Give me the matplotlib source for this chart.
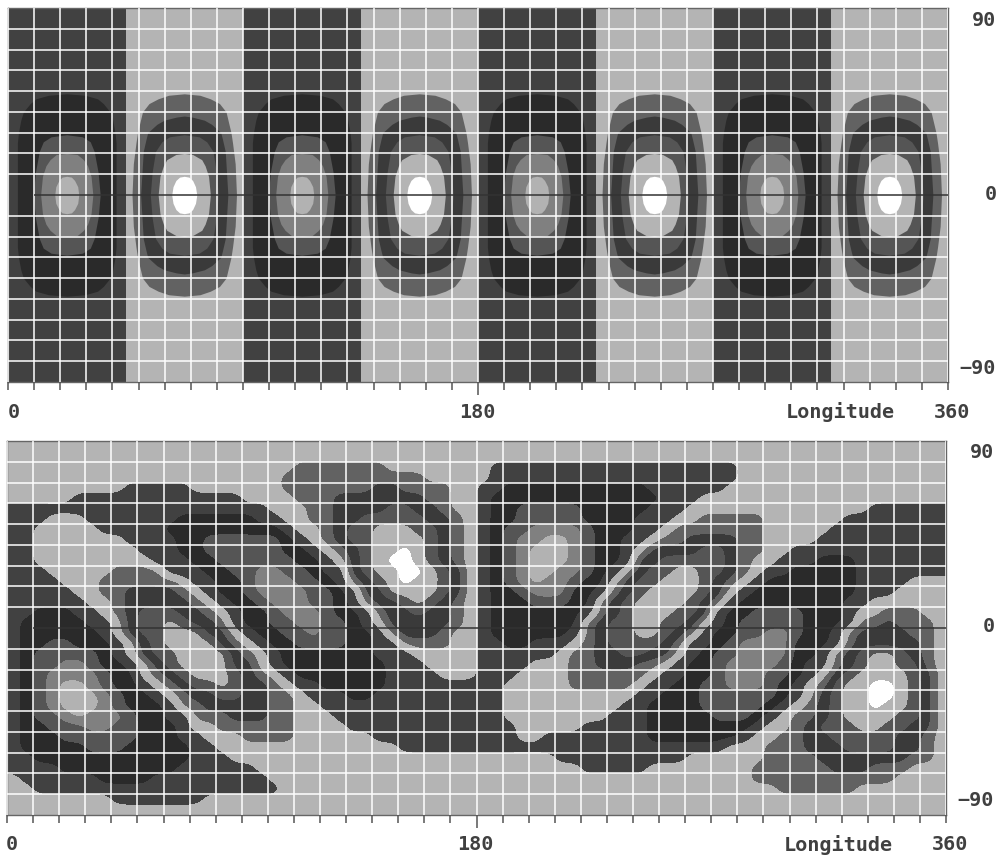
import numpy as np
import matplotlib
matplotlib.use("Agg")
import matplotlib.pyplot as plt
from matplotlib.colors import BoundaryNorm, ListedColormap

W, H = 997, 856

# band codes: a-e dark vortex bands, 1-6 light vortex bands
BAND_VALUES = {"a": -1, "b": -2, "c": -3, "d": -4, "e": -5,
               "1": 1, "2": 2, "3": 3, "4": 4, "5": 5, "6": 6}
LEVELS = [-5.5, -4.5, -3.5, -2.5, -1.5, 0, 1.5, 2.5, 3.5, 4.5, 5.5, 6.5]
GREYS = {"e": "#b2b2b2", "d": "#808080", "c": "#555555", "b": "#2a2a2a", "a": "#414141",
         "1": "#b4b4b4", "2": "#626262", "3": "#3a3a3a", "4": "#555555", "5": "#b4b4b4",
         "6": "#ffffff"}
BAND_ORDER = "edcba123456"

# top panel: longitudes of the vortex centres and of the dark strips
dark_centres = [22.5, 112.5, 202.5, 292.5]
light_centres = [67.5, 157.5, 247.5, 337.5]
dark_strip_width = 45

# top panel: half width in degrees longitude of each band, against latitude
dark_bands = {
    "b": ([0, 25, 30, 36, 40, 44, 46.3, 48, 48.7], [18.9, 18.9, 18.5, 17.6, 16.6, 14, 11.8, 7, 0]),
    "c": ([0, 11, 21, 25.6, 28, 29], [12.8, 12, 10.5, 9, 6, 0]),
    "d": ([0, 9, 14, 17, 19.5, 20], [10, 9.3, 8, 6.4, 4, 0]),
    "e": ([0, 4, 7, 8.6, 9], [4.6, 4.2, 3, 1.8, 0]),
}
light_bands = {
    "2": ([0, 15, 25, 30, 40, 44, 46.3, 48, 48.7], [20, 19.5, 18.5, 17.9, 16, 13.5, 10, 6, 0]),
    "3": ([0, 21, 27, 30, 34, 36, 37.5, 38], [16.7, 15.7, 14.6, 14, 10.5, 7.7, 3, 0]),
    "4": ([0, 11, 21, 25.6, 28, 29], [13, 12.3, 11, 8.6, 5.7, 0]),
    "5": ([0, 9, 14, 17, 19.5, 20], [10, 9.3, 8, 6.7, 3.2, 0]),
    "6": ([0, 4, 7, 8.6, 9], [4.8, 4.3, 3.2, 1.8, 0]),
}

# bottom panel: 5 deg cells, north to south, written as band*count
bottom_rows = [
    "1*72",
    "1*72",
    "1*22 2*7 1*8 a*19 1*16",
    "1*21 2*11 1*5 a*19 1*16",
    "1*9 a*5 1*7 2*7 3*2 2*4 1*2 a*2 b*11 a*6 1*17",
    "1*5 a*13 1*4 2*3 3*7 2*2 1*2 a*1 b*13 a*3 1*19",
    "a*20 1*3 2*2 3*4 4*2 3*2 2*1 1*2 a*1 b*2 c*5 b*5 a*3 1*14 a*6",
    "a*3 1*3 a*7 b*6 a*2 1*2 2*2 3*2 4*5 3*2 2*1 1*1 a*1 b*2 c*5 b*4 a*3 1*2 2*5 1*6 a*8",
    "a*2 1*5 a*5 b*9 a*1 1*2 2*1 3*1 4*2 5*3 4*2 3*1 2*1 1*1 a*1 b*1 c*2 d*4 c*1 b*3 a*2 1*1 2*7 1*5 a*9",
    "a*2 1*7 a*4 b*2 c*6 b*1 a*1 1*1 2*1 3*1 4*2 5*4 4*1 3*1 2*1 1*1 a*1 b*1 c*1 d*2 e*2 d*1 c*1 b*2 a*2 1*1 2*2 3*4 2*2 1*4 a*10",
    "a*2 1*8 a*3 b*2 c*6 b*2 a*1 1*1 2*1 3*1 4*1 5*2 6*1 5*1 4*1 3*1 2*1 1*1 a*1 b*1 c*1 d*1 e*3 d*1 c*1 b*2 a*1 1*1 3*4 4*2 3*1 2*2 1*2 a*12",
    "a*2 1*9 a*3 b*2 c*6 b*2 a*1 1*1 3*1 4*1 5*1 6*2 5*1 4*1 3*1 2*1 1*1 a*1 b*1 c*1 d*1 e*3 d*1 c*1 b*2 a*1 3*2 4*5 3*1 2*1 1*2 a*3 b*3 a*7",
    "a*3 1*5 2*4 a*3 b*2 c*2 d*2 c*2 b*1 a*2 3*1 4*1 5*2 6*2 5*1 4*1 3*1 1*1 a*1 b*1 c*1 d*1 e*2 d*2 c*1 b*1 a*1 1*1 3*1 4*2 5*2 4*2 3*1 2*1 1*1 a*2 b*5 a*7",
    "a*4 1*3 2*6 1*1 a*2 b*2 c*1 d*3 c*2 b*1 a*1 2*1 3*1 4*1 5*1 6*1 5*2 4*1 3*1 1*1 a*1 b*1 c*1 d*1 e*1 d*2 c*1 b*2 1*1 3*1 4*2 5*3 4*1 3*1 2*1 1*1 a*1 b*7 a*4 1*3",
    "a*5 1*2 2*2 3*4 2*1 1*1 a*1 b*2 c*1 d*4 c*2 b*1 a*1 3*2 5*4 4*1 3*1 1*1 a*1 b*2 c*1 d*3 b*2 a*1 2*1 3*1 4*1 5*4 4*1 3*1 1*1 a*1 b*8 a*3 1*4",
    "a*6 1*2 2*1 3*5 2*1 1*1 a*1 b*2 c*1 d*3 c*2 b*1 a*1 2*1 3*2 4*1 5*1 4*1 3*1 2*1 1*1 a*1 b*3 c*3 b*2 2*1 3*1 4*1 5*4 4*1 3*1 2*1 a*1 b*8 a*2 1*6",
    "a*2 b*3 a*2 1*1 2*1 3*1 4*3 3*2 2*1 1*1 a*1 b*2 c*1 d*3 c*1 b*2 a*1 2*1 3*2 4*1 3*2 2*1 1*1 a*1 b*7 a*1 2*1 3*1 4*1 5*3 4*2 3*1 a*1 b*2 c*4 b*3 a*1 1*2 2*3 1*2",
    "a*1 b*5 a*2 1*1 3*1 4*2 5*1 4*1 3*2 2*1 a*1 b*2 c*2 d*2 c*2 b*1 a*1 1*1 3*5 2*1 1*1 a*1 b*7 2*1 3*1 4*2 5*2 4*2 3*1 1*1 a*1 b*1 c*5 b*3 a*1 2*2 3*1 2*3 1*1",
    "a*1 b*6 a*1 1*1 3*1 4*2 5*3 3*2 1*1 a*1 b*2 c*2 d*1 c*2 b*2 a*1 2*1 3*3 2*1 1*2 a*1 b*6 a*1 2*1 3*1 4*2 5*2 4*1 3*1 2*1 a*1 b*2 c*2 d*2 c*1 b*2 a*1 2*1 3*4 2*2 1*1",
    "a*1 b*2 c*2 b*3 a*1 1*1 3*1 4*1 5*4 3*1 2*1 1*1 a*1 b*2 c*4 b*2 a*2 2*4 1*2 a*2 b*2 a*3 1*1 2*1 3*1 4*4 3*1 2*1 a*2 b*1 c*1 d*4 b*3 a*1 2*1 3*5 2*1 1*1",
    "a*1 b*1 c*5 b*1 a*1 1*1 3*1 4*2 5*4 3*1 2*1 1*1 a*1 b*7 a*3 1*5 a*6 1*1 2*2 3*2 4*2 3*2 1*1 a*1 b*1 c*2 d*4 b*2 a*1 2*1 3*1 4*1 5*2 4*1 3*1 2*1 1*1",
    "a*1 b*1 c*2 d*2 c*1 b*2 a*1 1*1 3*1 4*1 5*4 3*2 1*1 a*1 b*8 a*3 1*4 a*4 1*3 2*2 3*3 2*2 1*1 a*1 b*2 c*1 d*4 c*1 b*1 a*2 2*1 3*1 4*1 5*2 4*2 2*1 1*1",
    "a*1 b*1 c*1 d*4 c*1 b*2 1*1 2*1 3*1 4*1 5*3 4*1 3*1 2*1 1*1 a*1 b*7 a*4 1*3 a*3 1*4 2*6 1*1 a*2 b*2 c*1 d*3 c*2 b*1 a*1 1*1 3*1 4*1 5*4 4*1 3*1 1*1",
    "a*1 b*1 c*1 d*1 e*2 d*1 c*1 b*2 a*1 1*1 2*1 3*1 4*2 5*1 4*1 3*2 2*1 1*1 a*2 b*5 a*9 1*5 2*5 1*1 a*2 b*2 c*2 d*3 c*1 b*1 a*1 1*1 2*1 4*1 5*2 6*2 5*1 4*1 3*1 1*1",
    "a*1 b*1 c*1 d*1 e*3 d*1 c*1 b*2 a*1 1*1 2*1 3*2 4*2 3*2 2*2 1*1 a*3 b*2 a*10 1*10 a*2 b*3 c*6 b*1 a*1 1*1 3*1 4*1 5*2 6*2 5*1 4*1 3*1 1*1",
    "a*1 b*1 c*1 d*1 e*3 d*1 c*1 b*3 a*1 2*2 3*5 2*2 1*2 a*14 1*9 a*2 b*4 c*5 b*1 a*1 1*1 2*1 3*1 4*1 5*2 6*1 5*2 4*1 3*1 1*1",
    "a*1 b*1 c*2 d*1 e*1 d*3 c*1 b*2 a*2 2*3 3*3 2*2 1*3 a*13 1*8 a*3 b*5 c*3 b*1 a*1 1*1 2*2 3*1 4*1 5*4 4*2 3*1 1*1",
    "a*1 b*2 c*3 d*2 c*2 b*3 a*1 1*2 2*6 1*4 a*13 1*5 a*5 b*8 a*1 1*2 2*1 3*1 4*3 5*2 4*2 3*2 1*1",
    "a*1 b*3 c*6 b*3 a*2 1*3 2*4 1*6 a*11 1*2 a*8 b*7 a*1 1*2 2*2 3*2 4*5 3*2 2*1 1*1",
    "a*1 b*5 c*3 b*5 a*2 1*14 a*25 1*3 2*3 3*3 4*4 3*2 2*1 1*1",
    "a*2 b*12 a*3 1*25 a*10 1*6 2*4 3*7 2*2 1*1",
    "a*4 b*9 a*6 1*25 a*5 1*8 2*6 3*3 2*3 1*3",
    "1*1 a*6 b*4 a*9 1*37 2*11 1*4",
    "1*2 a*19 1*38 2*6 1*7",
    "1*8 a*7 1*57",
    "1*72",
]

lon_ticks = list(range(0, 361, 10))
lat_lines = [80, 70, 60, 50, 40, 30, 20, 10, -10, -20, -30, -40, -50, -60, -70, -80]
lat_labels = ["90", "0", "\u221290"]
lon_labels = ["0", "180", "Longitude", "360"]


def expand(row):
    cells = []
    for run in row.split():
        band, count = run.split("*")
        cells.extend([BAND_VALUES[band]] * int(count))
    assert len(cells) == 72, row
    return cells


def make_axes(box):
    left, top, right, bottom = box
    ax = fig.add_axes([left / W, 1 - bottom / H, (right - left) / W, (bottom - top) / H])
    return ax


def finish_axes(ax):
    ax.set_xlim(0, 360)
    ax.set_ylim(-90, 90)
    ax.set_aspect("auto")
    ax.set_xticks([180])
    ax.set_xticks(lon_ticks, minor=True)
    ax.set_yticks(lat_lines)
    ax.set_xticklabels([])
    ax.set_yticklabels([])
    ax.tick_params(axis="x", which="major", length=9.5, width=1.1, color="#555555")
    ax.tick_params(axis="x", which="minor", length=6, width=1.1, color="#555555")
    ax.tick_params(axis="y", length=0)
    ax.grid(True, which="both", color="white", linewidth=1.1)
    ax.set_axisbelow(False)
    ax.hlines(0, 10, 360, color="#333333", linewidth=1.1, zorder=3)
    for spine in ax.spines.values():
        spine.set_color("#666666")
        spine.set_linewidth(1.0)


def draw_vortex(ax, centre, bands):
    for band, (lat, half_width) in bands.items():
        lat = np.array(lat, dtype=float)
        half_width = np.array(half_width, dtype=float)
        ys = np.concatenate([-lat[::-1], lat[1:]])
        hw = np.concatenate([half_width[::-1], half_width[1:]])
        ax.fill_betweenx(ys, centre - hw, centre + hw, color=GREYS[band], linewidth=0,
                         antialiased=False, zorder=1)


def label(x, y, text):
    fig.text(x / W, 1 - y / H, text, ha="center", va="center", color="#404040",
             family="DejaVu Sans Mono", fontweight="bold", fontsize=14.5)


fig = plt.figure(figsize=(W / 100, H / 100), dpi=100)

top_ax = make_axes((8, 8, 948, 382))
top_ax.set_facecolor(GREYS["1"])
for centre in dark_centres:
    top_ax.axvspan(centre - dark_strip_width / 2, centre + dark_strip_width / 2,
                   color=GREYS["a"], linewidth=0, zorder=0.5)
    draw_vortex(top_ax, centre, dark_bands)
for centre in light_centres:
    draw_vortex(top_ax, centre, light_bands)
finish_axes(top_ax)

bottom_ax = make_axes((7, 441, 946, 815))
cmap = ListedColormap([GREYS[b] for b in BAND_ORDER])
bottom_ax.imshow(np.array([expand(r) for r in bottom_rows], dtype=float), extent=(0, 360, -90, 90),
                 cmap=cmap, norm=BoundaryNorm(LEVELS, cmap.N), interpolation="bicubic",
                 interpolation_stage="data", aspect="auto", zorder=1)
finish_axes(bottom_ax)

# axis labels of the top panel, then the bottom panel
for dx, y_lon, y_lat in [(0, 412, (20, 194, 368)), (-2, 845, (452, 627, 800))]:
    label(14 + dx, y_lon, lon_labels[0])
    label(477 + dx, y_lon, lon_labels[1])
    label(840 + dx, y_lon, lon_labels[2])
    label(952 + dx, y_lon, lon_labels[3])
    label(984 + dx, y_lat[0], lat_labels[0])
    label(991 + dx, y_lat[1], lat_labels[1])
    label(978 + dx, y_lat[2], lat_labels[2])

fig.savefig("out.png", dpi=100)
